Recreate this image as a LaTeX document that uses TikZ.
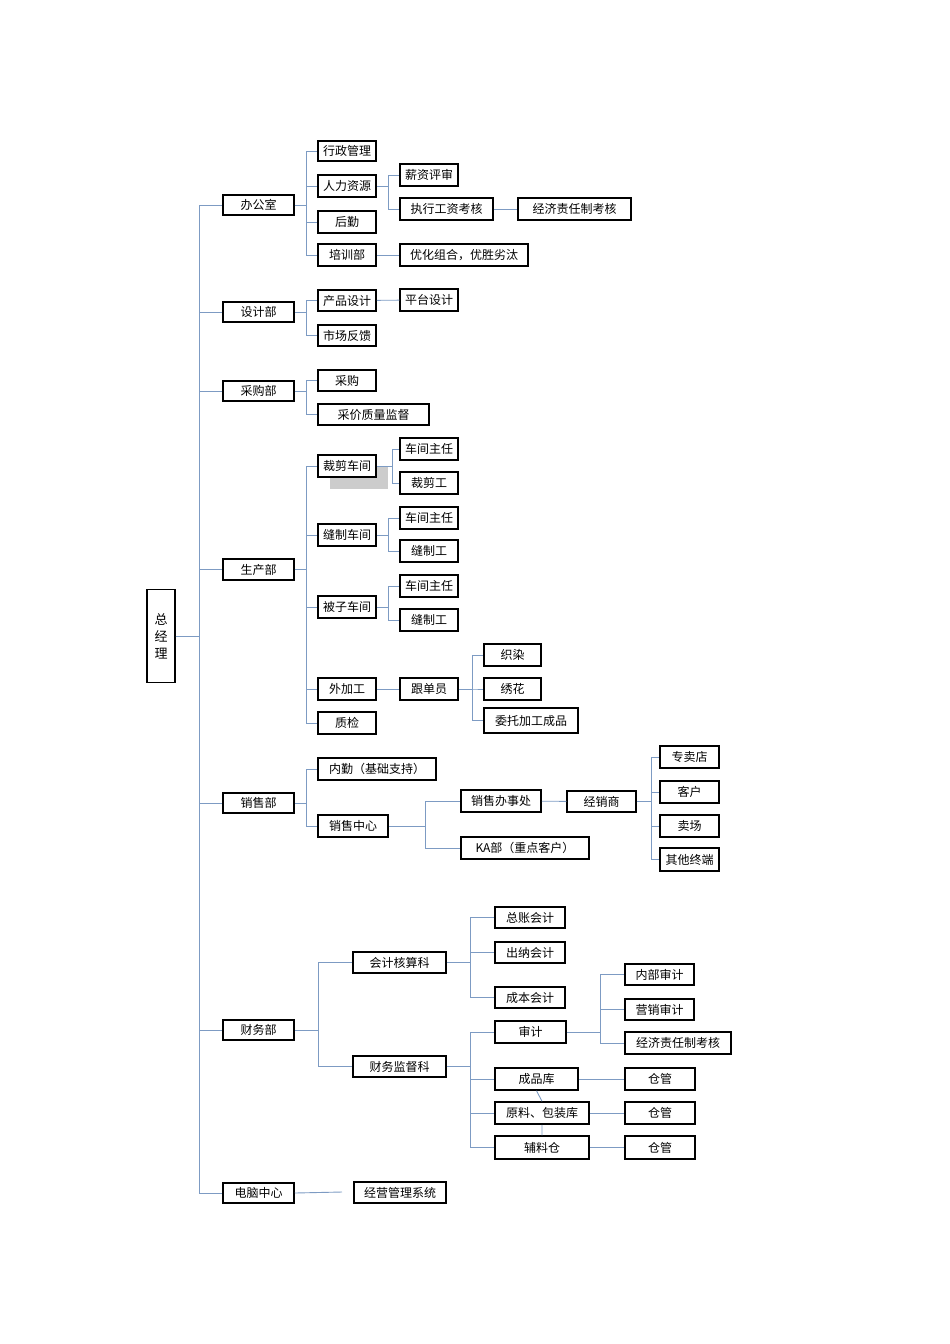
\documentclass[tikz,border=0pt]{standalone}
\usepackage{fontspec}
\newfontfamily\cjk{Noto Sans CJK SC}
\begin{document}
\begin{tikzpicture}[x=1pt,y=-1pt,
  box/.style={draw=black,line width=1.5pt,fill=white,inner sep=0pt,font=\cjk\fontsize{12}{14}\selectfont},
  ln/.style={draw={rgb,255:red,125;green,155;blue,195},line width=0.9pt}]
\useasboundingbox (0,0) rectangle (950,1344);
\newcommand\bx[6]{\node[box,minimum width={(#4)-(#2)},minimum height={(#5)-(#3)}] (#1) at ({((#2)+(#4))/2},{((#3)+(#5))/2}) {#6};}
\newcommand\cn[3]{\draw[ln] (#1.east) -- ([xshift=#3]#1.east) |- (#2.west);}
% shade
\fill[gray!40] (330,466) rectangle (388,489);
% root
\node[box,minimum width=28,minimum height=93,align=center,font=\cjk\fontsize{13}{17}\selectfont] (root) at (161,636) {总\\经\\理};
\bx{d1}{223}{195}{294}{215}{办公室}
\bx{d2}{223}{302}{294}{322}{设计部}
\bx{d3}{223}{381}{294}{401}{采购部}
\bx{d4}{223}{559}{294}{580}{生产部}
\bx{d5}{223}{793}{294}{813}{销售部}
\bx{d6}{223}{1020}{294}{1040}{财务部}
\bx{d7}{223}{1183}{294}{1203}{电脑中心}
\foreach \d in {d1,d2,d3,d4,d5,d6,d7}{\draw[ln] (root.east) -- (199,636) |- (\d.west);}
% office
\bx{a1}{318}{141}{376}{161}{行政管理}
\bx{a2}{318}{175}{376}{197}{人力资源}
\bx{a3}{318}{211}{376}{233}{后勤}
\bx{a4}{318}{244}{376}{266}{培训部}
\foreach \c in {a1,a2,a3,a4}{\cn{d1}{\c}{12}}
\bx{a21}{400}{164}{458}{186}{薪资评审}
\bx{a22}{400}{198}{493}{220}{执行工资考核}
\cn{a2}{a21}{12}\cn{a2}{a22}{12}
\bx{a23}{518}{198}{631}{220}{经济责任制考核}
\draw[ln] (a22) -- (a23);
\bx{a41}{400}{244}{528}{266}{优化组合，优胜劣汰}
\draw[ln] (a4) -- (a41);
% design
\bx{b1}{318}{290}{376}{311}{产品设计}
\bx{b2}{318}{325}{376}{346}{市场反馈}
\cn{d2}{b1}{12}\cn{d2}{b2}{12}
\bx{b11}{400}{289}{458}{311}{平台设计}
\draw[ln] (b1) -- (b11);
% purchase
\bx{c1}{318}{370}{376}{391}{采购}
\bx{c2}{318}{404}{429}{425}{采价质量监督}
\cn{d3}{c1}{12}\cn{d3}{c2}{12}
% production
\bx{p1}{318}{455}{376}{477}{裁剪车间}
\bx{p2}{318}{524}{376}{546}{缝制车间}
\bx{p3}{318}{596}{376}{618}{被子车间}
\bx{p4}{318}{678}{376}{700}{外加工}
\bx{p5}{318}{712}{376}{734}{质检}
\foreach \c in {p1,p2,p3,p4,p5}{\cn{d4}{\c}{12}}
\bx{p11}{400}{438}{458}{460}{车间主任}
\bx{p12}{400}{472}{458}{494}{裁剪工}
\cn{p1}{p11}{16}\cn{p1}{p12}{16}
\bx{p21}{400}{507}{458}{529}{车间主任}
\bx{p22}{400}{540}{458}{562}{缝制工}
\cn{p2}{p21}{12}\cn{p2}{p22}{12}
\bx{p31}{400}{575}{458}{597}{车间主任}
\bx{p32}{400}{609}{458}{631}{缝制工}
\cn{p3}{p31}{12}\cn{p3}{p32}{12}
\bx{p41}{400}{678}{458}{700}{跟单员}
\draw[ln] (p4) -- (p41);
\bx{p411}{484}{644}{541}{666}{织染}
\bx{p412}{484}{678}{541}{700}{绣花}
\bx{p413}{484}{708}{578}{733}{委托加工成品}
\foreach \c in {p411,p412,p413}{\cn{p41}{\c}{14}}
% sales
\bx{s1}{318}{758}{436}{780}{内勤（基础支持）}
\bx{s2}{318}{815}{388}{837}{销售中心}
\cn{d5}{s1}{12}\cn{d5}{s2}{12}
\bx{s21}{461}{790}{541}{812}{销售办事处}
\bx{s22}{461}{837}{589}{859}{KA部（重点客户）}
\cn{s2}{s21}{37}\cn{s2}{s22}{37}
\bx{s211}{567}{791}{636}{812}{经销商}
\draw[ln] (s21) -- (s211);
\bx{t1}{660}{746}{719}{768}{专卖店}
\bx{t2}{660}{781}{719}{803}{客户}
\bx{t3}{660}{815}{719}{837}{卖场}
\bx{t4}{660}{848}{719}{871}{其他终端}
\foreach \c in {t1,t2,t3,t4}{\cn{s211}{\c}{15}}
% finance
\bx{f1}{353}{952}{446}{973}{会计核算科}
\bx{f2}{353}{1056}{446}{1077}{财务监督科}
\cn{d6}{f1}{24}\cn{d6}{f2}{24}
\bx{f11}{495}{907}{565}{928}{总账会计}
\bx{f12}{495}{942}{565}{963}{出纳会计}
\bx{f13}{495}{987}{565}{1008}{成本会计}
\foreach \c in {f11,f12,f13}{\cn{f1}{\c}{24}}
\bx{f21}{495}{1021}{566}{1043}{审计}
\bx{f22}{495}{1068}{578}{1090}{成品库}
\bx{f23}{495}{1102}{589}{1124}{原料、包装库}
\bx{f24}{495}{1136}{589}{1159}{辅料仓}
\foreach \c in {f21,f22,f23,f24}{\cn{f2}{\c}{24}}
\draw[ln] (f22.south) -- (f23.north) (f23.south) -- (f24.north);
\bx{g1}{625}{964}{694}{985}{内部审计}
\bx{g2}{625}{999}{694}{1020}{营销审计}
\bx{g3}{625}{1032}{731}{1054}{经济责任制考核}
\foreach \c in {g1,g2,g3}{\cn{f21}{\c}{34}}
\bx{h1}{625}{1068}{695}{1090}{仓管}
\bx{h2}{625}{1102}{695}{1124}{仓管}
\bx{h3}{625}{1136}{695}{1159}{仓管}
\draw[ln] (f22) -- (h1) (f23) -- (h2) (f24) -- (h3);
% computer
\bx{e1}{354}{1182}{446}{1203}{经营管理系统}
\coordinate (e0) at (342,1192);
\draw[ln] (d7.east) -- (e0);
\end{tikzpicture}
\end{document}
